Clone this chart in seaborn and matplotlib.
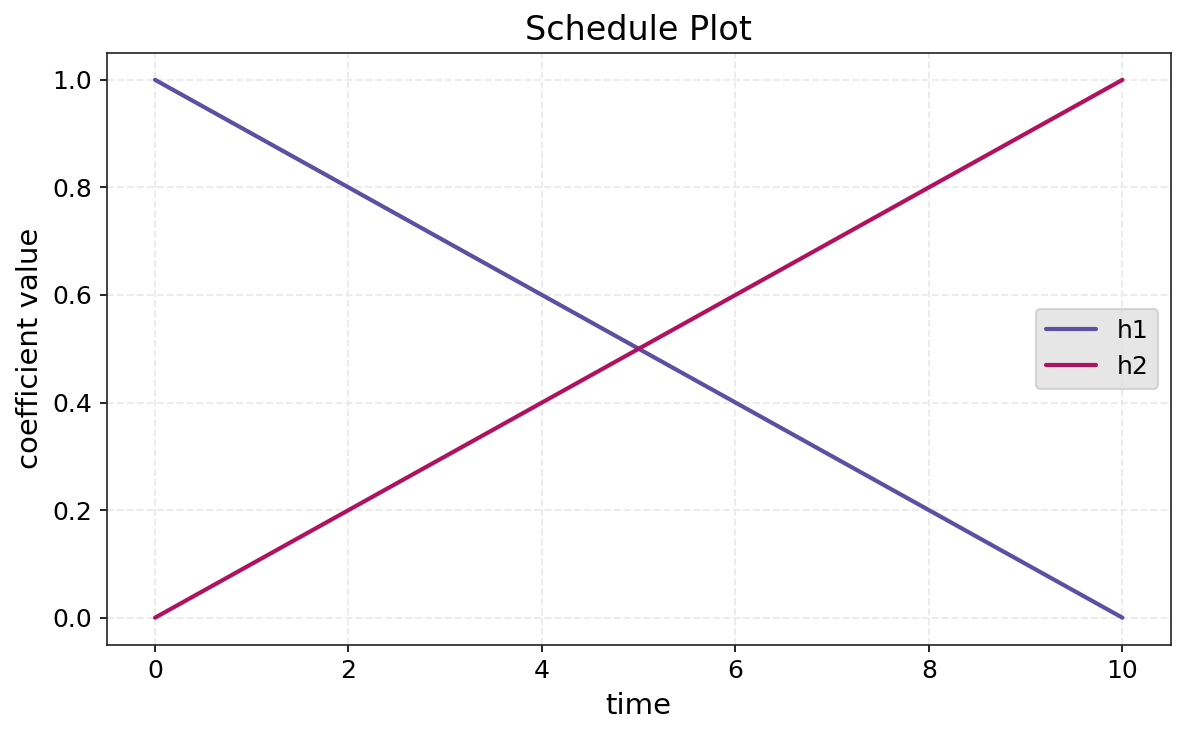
import matplotlib
matplotlib.use("Agg")
import matplotlib.pyplot as plt
import pandas as pd
import seaborn as sns

time = [0, 1, 2, 3, 4, 5, 6, 7, 8, 9, 10]
h1 = [1.0, 0.9, 0.8, 0.7, 0.6, 0.5, 0.4, 0.3, 0.2, 0.1, 0.0]
h2 = [0.0, 0.1, 0.2, 0.3, 0.4, 0.5, 0.6, 0.7, 0.8, 0.9, 1.0]
series_names = ["h1", "h2"]
series_colors = ["#5e4fa2", "#b01260"]

df = pd.DataFrame({"time": time, "h1": h1, "h2": h2})
long_df = df.melt(id_vars="time", value_vars=series_names, var_name="series", value_name="value")

sns.set_style("ticks", {"axes.edgecolor": "#222222", "text.color": "black",
                        "axes.labelcolor": "black", "xtick.color": "black",
                        "ytick.color": "black"})
plt.rcParams["font.family"] = ["DejaVu Sans"]

fig, ax = plt.subplots(figsize=(7.9, 4.9), dpi=150)
sns.lineplot(data=long_df, x="time", y="value", hue="series",
             palette=dict(zip(series_names, series_colors)), linewidth=2, ax=ax)

ax.grid(True, linestyle="--", color="#ebebeb", linewidth=0.9)
ax.set_axisbelow(True)
ax.set_title("Schedule Plot", fontsize=16)
ax.set_xlabel("time", fontsize=14)
ax.set_ylabel("coefficient value", fontsize=14)
ax.tick_params(labelsize=12, colors="black")
ax.set_xticks([0, 2, 4, 6, 8, 10])
ax.set_yticks([0.0, 0.2, 0.4, 0.6, 0.8, 1.0])
ax.set_xlim(-0.5, 10.5)
ax.set_ylim(-0.05, 1.05)

leg = ax.legend(loc="center right", fontsize=12, frameon=True, title=None)
leg.get_frame().set_facecolor("#e0e0e0")
leg.get_frame().set_edgecolor("#cccccc")

fig.subplots_adjust(left=0.09, right=0.988, top=0.928, bottom=0.123)
fig.savefig("out.png", dpi=150)
